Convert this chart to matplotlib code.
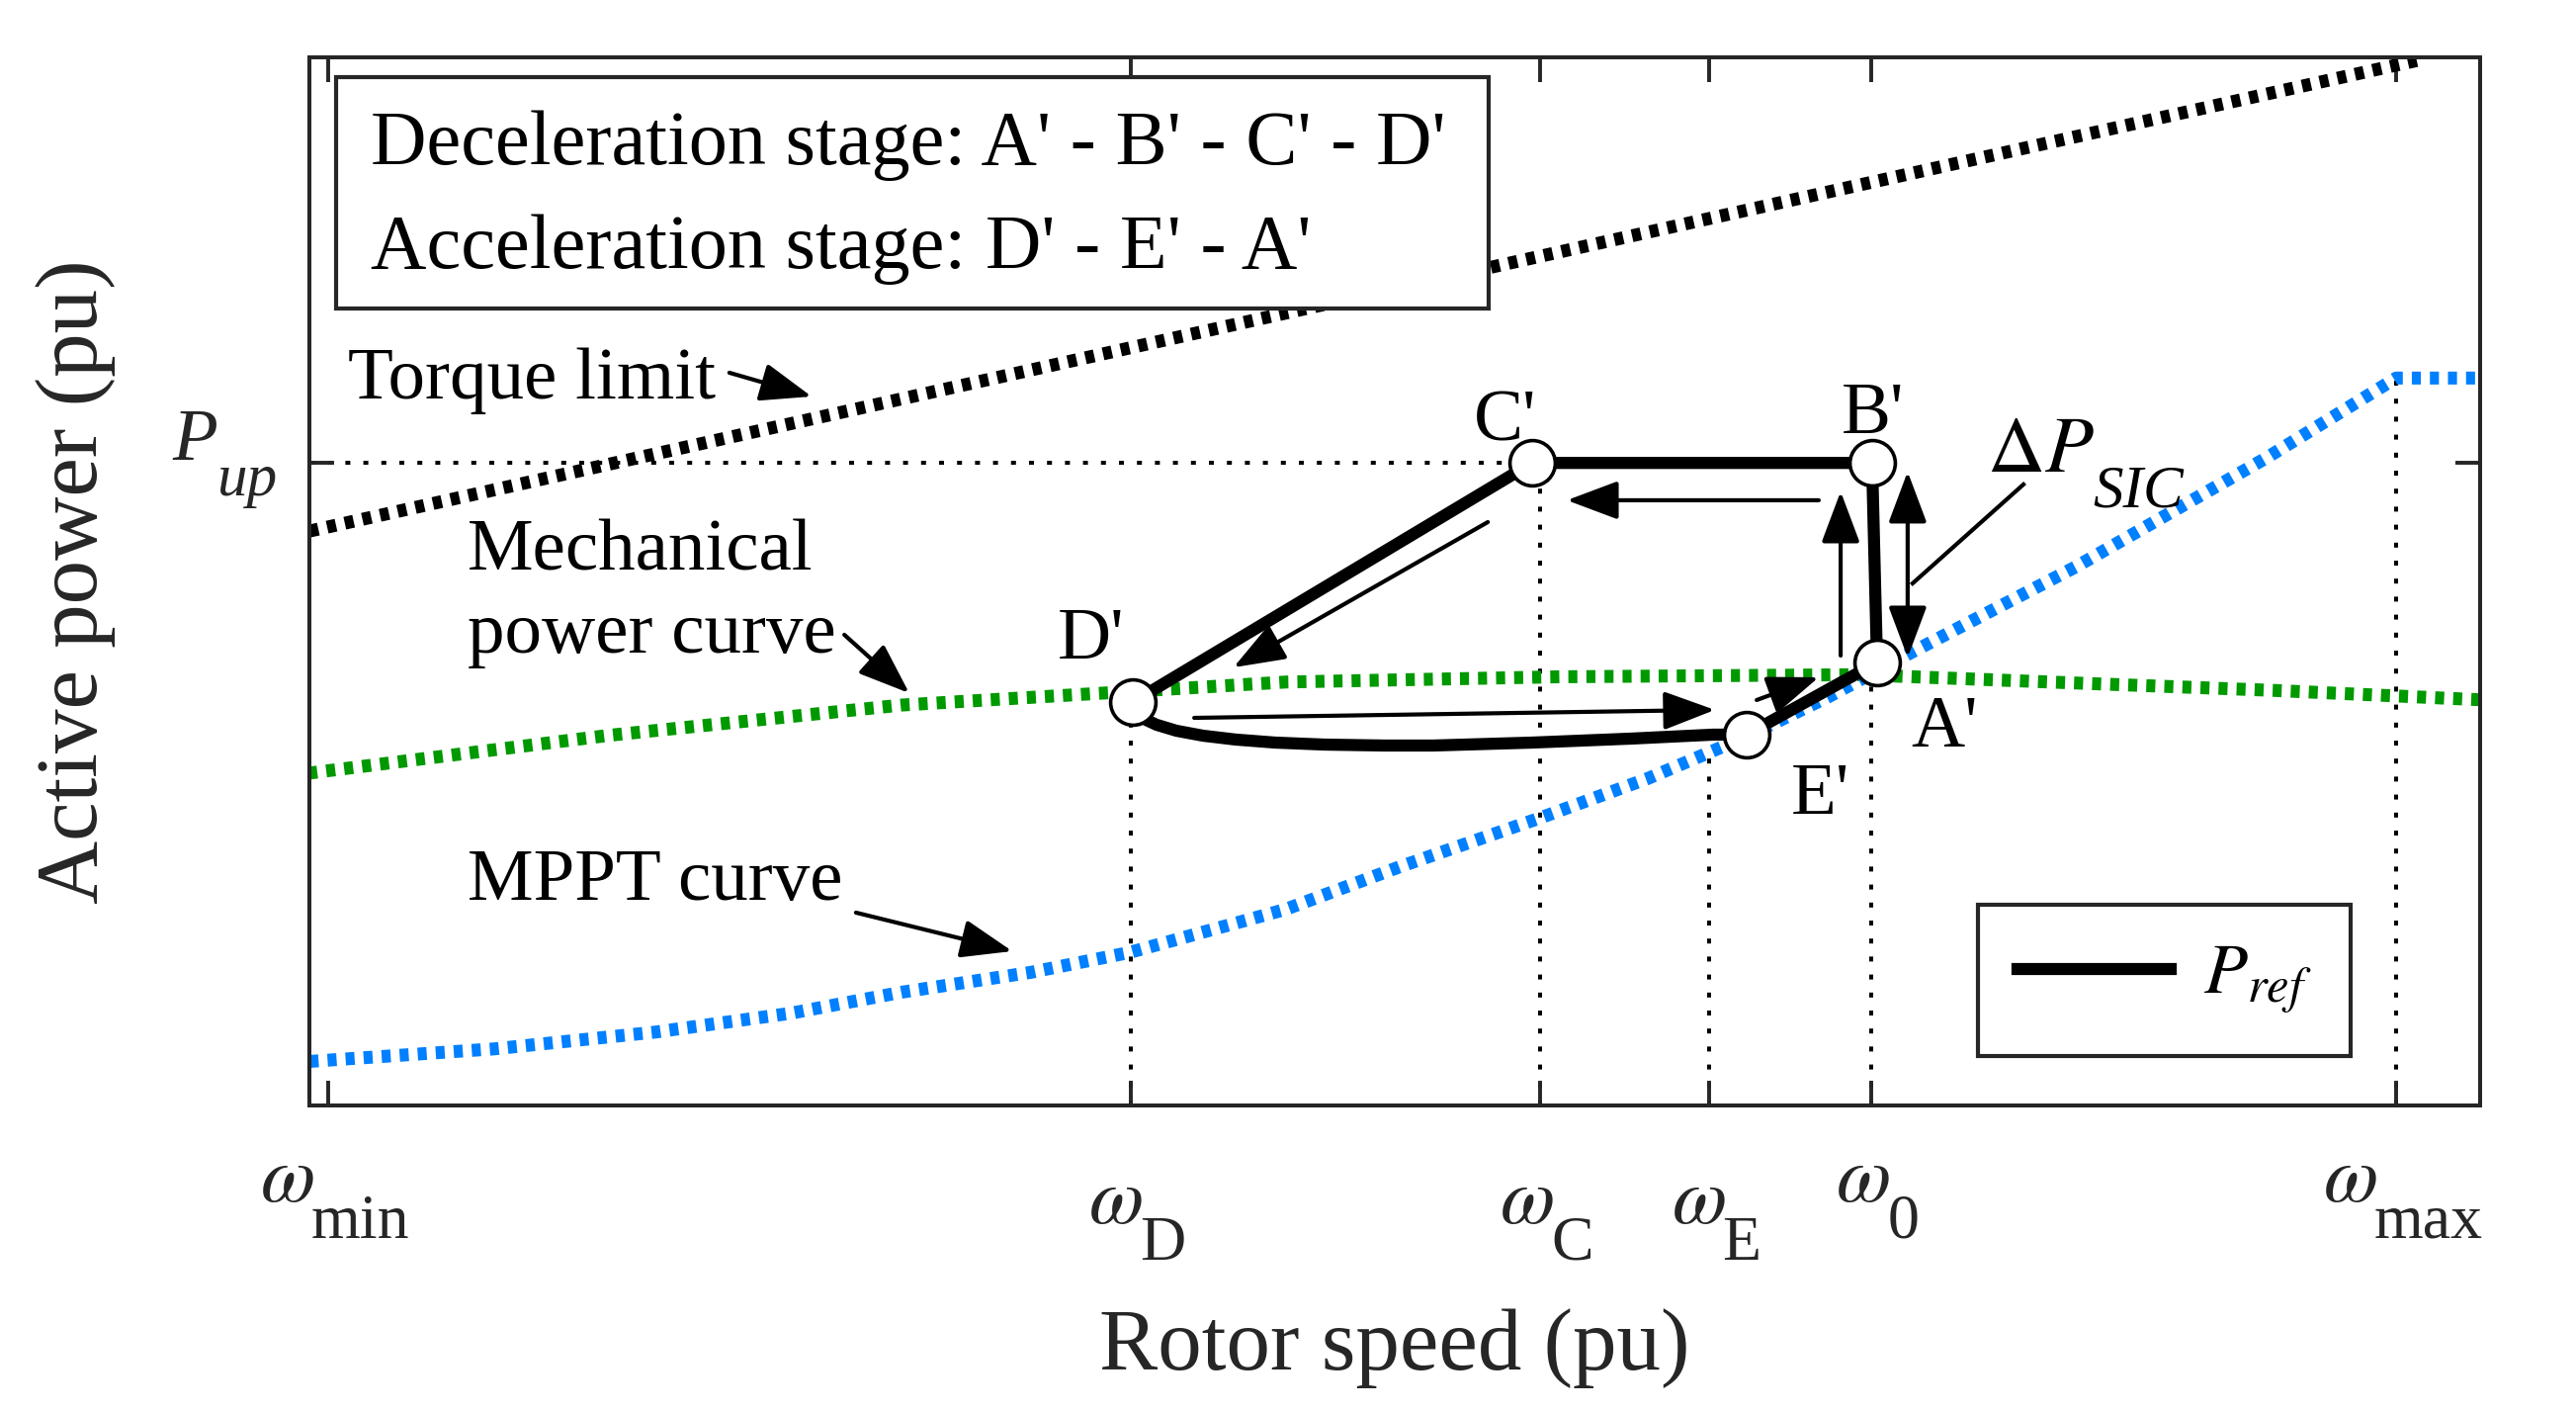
import numpy as np
import matplotlib
matplotlib.use('Agg')
import matplotlib.pyplot as plt
from matplotlib.patches import Rectangle

plt.rcParams['font.family'] = ['Liberation Serif', 'DejaVu Serif']
plt.rcParams['mathtext.fontset'] = 'stix'

# speeds (pu) of the x ticks
w_min, w_D, w_C, w_E, w_0, w_max = 0.700, 0.894, 0.993, 1.034, 1.073, 1.200
tick_w = [w_min, w_D, w_C, w_E, w_0, w_max]
tick_sub = ['min', 'D', 'C', 'E', '0', 'max']
p_up = 0.613

# curves
torque_w = [0.6955, 1.2062]
torque_p = [0.548, 0.998]

mech_w = [0.6952, 0.7676, 0.8386, 0.8941, 0.9316, 0.9978, 1.0700, 1.1295, 1.1704, 1.2206]
mech_p = [0.317, 0.353, 0.382, 0.395, 0.404, 0.409, 0.411, 0.402, 0.396, 0.387]

mppt_w = [0.6955, 0.7402, 0.7791, 0.8119, 0.8386, 0.8699, 0.8938, 0.9314, 0.9593,
          0.9928, 1.0191, 1.0430, 1.0628, 1.0827, 1.1226, 1.1687, 1.2000, 1.2206]
mppt_p = [0.042, 0.054, 0.070, 0.088, 0.108, 0.127, 0.146, 0.187, 0.228,
          0.274, 0.312, 0.352, 0.390, 0.432, 0.514, 0.618, 0.694, 0.694]

# operating points A'..E'
pt_name = ["A'", "B'", "C'", "D'", "E'"]
pt_w = [1.0745, 1.0733, 0.9911, 0.8946, 1.0430]
pt_p = [0.4226, 0.613, 0.613, 0.3849, 0.3538]

# D' -> E' recovery path
de_w = [0.8955, 0.8972, 0.9003, 0.9051, 0.9115, 0.9194, 0.9290, 0.9409, 0.9553,
        0.9672, 0.9911, 1.0150, 1.0349]
de_p = [0.3764, 0.3689, 0.3632, 0.3575, 0.3528, 0.3491, 0.3462, 0.3443, 0.3434,
        0.3434, 0.3462, 0.3500, 0.3538]

# thin direction arrows: (tail w, tail p, head w, head p)
flow_arrows = [
    (0.9804, 0.5566, 0.9189, 0.4179),
    (1.0604, 0.5774, 0.9995, 0.5774),
    (1.0657, 0.4292, 1.0657, 0.5858),
    (0.9094, 0.3698, 1.0353, 0.3774),
    (1.0454, 0.3868, 1.0604, 0.4085),
]
label_arrows = [
    (0.7970, 0.6991, 0.8169, 0.6764),
    (0.8248, 0.4491, 0.8405, 0.3934),
    (0.8276, 0.1840, 0.8654, 0.1472),
]
dp_arrow = (1.0819, 0.4274, 0.6047)
dp_leader = (1.1099, 0.5925, 1.0831, 0.4981)

DPI = 200
dark = '#262626'
fig = plt.figure(figsize=(13.03, 7.14), dpi=DPI)
ax = fig.add_axes([0.1201, 0.2171, 0.8427, 0.7423])
ax.set_xlim(0.69546, 1.22033)
ax.set_ylim(0, 1)

dot = dict(color='k', lw=1.44, dashes=(1.25, 3.3), zorder=1)
big_dot = dict(lw=4.7, dashes=(0.7, 0.7), zorder=2)

ax.plot(torque_w, torque_p, color='k', **big_dot)
ax.plot(mech_w, mech_p, color='#009900', **big_dot)
ax.plot(mppt_w, mppt_p, color='#0080FF', **big_dot)

# guide lines
ax.plot([ax.get_xlim()[0], pt_w[2]], [p_up, p_up], **dot)
guide_top = [pt_p[3], pt_p[2], np.interp(w_E, mppt_w, mppt_p), pt_p[0],
             np.interp(w_max, mppt_w, mppt_p)]
for w, top in zip([w_D, w_C, w_E, w_0, w_max], guide_top):
    ax.plot([w, w], [0, top], **dot)

# P_ref trajectory
path_w = [pt_w[0], pt_w[1], pt_w[2], pt_w[3]] + de_w + [pt_w[4], pt_w[0]]
path_p = [pt_p[0], pt_p[1], pt_p[2], pt_p[3]] + de_p + [pt_p[4], pt_p[0]]
pref_line, = ax.plot(path_w, path_p, color='k', lw=4.4, zorder=3,
                     solid_joinstyle='round')
ax.plot(pt_w, pt_p, 'o', ms=16.5, mfc='white', mec='k', mew=1.3, zorder=4)

head = 'head_length=16,head_width=6'
for tw, tp, hw, hp in flow_arrows + label_arrows:
    ax.annotate('', xy=(hw, hp), xytext=(tw, tp),
                arrowprops=dict(arrowstyle='-|>,' + head, color='k', lw=1.5,
                                shrinkA=0, shrinkB=0, mutation_scale=1))
ax.annotate('', xy=(dp_arrow[0], dp_arrow[1]), xytext=(dp_arrow[0], dp_arrow[2]),
            arrowprops=dict(arrowstyle='<|-|>,' + head, color='k', lw=1.5,
                            shrinkA=0, shrinkB=0, mutation_scale=1))
ax.plot(dp_leader[0::2], dp_leader[1::2], color='k', lw=1.5)

# text labels
fs = 27
ax.text(0.7048, 0.6745, 'Torque limit', fontsize=fs)
ax.text(0.7337, 0.5113, 'Mechanical', fontsize=fs)
ax.text(0.7337, 0.4321, 'power curve', fontsize=fs)
ax.text(0.7337, 0.1962, 'MPPT curve', fontsize=fs)
lab_pos = {"A'": (1.0827, 0.3425), "B'": (1.0659, 0.6415), "C'": (0.9770, 0.6340),
           "D'": (0.8764, 0.4264), "E'": (1.0537, 0.2783)}
for n in pt_name:
    ax.text(*lab_pos[n], n, fontsize=fs)
ax.text(1.1011, 0.6047, r'$\Delta P$', fontsize=fs + 2)
ax.text(1.1266, 0.5708, 'SIC', fontsize=22, style='italic')

# stage box
ax.add_patch(Rectangle((0.0123, 0.7604), 0.531, 0.2208, transform=ax.transAxes,
                       facecolor='white', edgecolor=dark, lw=1.5, zorder=6))
ax.text(0.0282, 0.8981, "Deceleration stage: A' - B' - C' - D'", fontsize=28.2,
        transform=ax.transAxes, zorder=7)
ax.text(0.0282, 0.7991, "Acceleration stage: D' - E' - A'", fontsize=28.2,
        transform=ax.transAxes, zorder=7)

leg = ax.legend([pref_line], [r'$P_{ref}$'], loc='lower right',
                bbox_to_anchor=(0.9403, 0.0472), borderaxespad=0, fontsize=26,
                handlelength=2.15, handletextpad=0.45, borderpad=0.55,
                fancybox=False, framealpha=1)
leg.get_frame().set_edgecolor(dark)
leg.get_frame().set_linewidth(1.5)

# axes styling
for s in ax.spines.values():
    s.set_color(dark)
    s.set_linewidth(1.44)
ax.set_xticks(tick_w)
ax.set_yticks([p_up])
ax.tick_params(direction='in', length=9, width=1.4, color=dark, top=True, right=True,
               labelbottom=False, labelleft=False)

# tick labels: omega with a large subscript
pairs = []
for w, s in zip(tick_w, tick_sub):
    drop = 7.9 if s.isupper() else 0
    a = ax.annotate(r'$\omega$', xy=(w, 0), xycoords=('data', 'axes fraction'),
                    xytext=(0, -34.9 - drop), textcoords='offset points',
                    ha='right', va='baseline', fontsize=29, color=dark)
    b = ax.annotate(s, xy=(w, 0), xycoords=('data', 'axes fraction'),
                    xytext=(0, -48.2 - drop), textcoords='offset points',
                    ha='left', va='baseline', fontsize=23, color=dark)
    pairs.append((a, b))
ax.annotate('P', xy=(0, p_up), xycoords=('axes fraction', 'data'), xytext=(-50, 1.1),
            textcoords='offset points', va='baseline', fontsize=27, style='italic', color=dark)
ax.annotate('up', xy=(0, p_up), xycoords=('axes fraction', 'data'), xytext=(-33.5, -11.9),
            textcoords='offset points', va='baseline', fontsize=22, style='italic', color=dark)

ax.set_xlabel('Rotor speed (pu)', fontsize=32, color=dark, va='baseline')
ax.xaxis.set_label_coords(0.5, -0.2519)
ax.set_ylabel('Active power (pu)', fontsize=32, color=dark, va='baseline')
ax.yaxis.set_label_coords(-0.0979, 0.5)

fig.canvas.draw()
r = fig.canvas.get_renderer()
for a, b in pairs:
    w1 = a.get_window_extent(r).width
    w2 = b.get_window_extent(r).width
    shift = ((w1 - w2) / 2 + 8) * 72 / DPI
    a.xyann = (shift, a.xyann[1])
    b.xyann = (shift - 1, b.xyann[1])

fig.savefig('out.png', dpi=DPI)
